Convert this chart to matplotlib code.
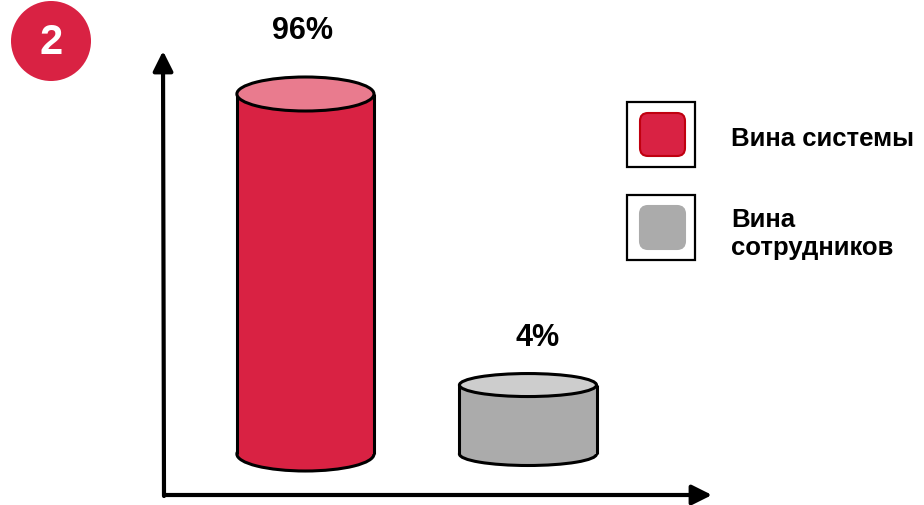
import numpy as np
import matplotlib.pyplot as plt
from matplotlib.patches import Ellipse, Circle, Rectangle, FancyBboxPatch
from matplotlib.transforms import ScaledTranslation

plt.rcParams['font.family'] = ['Liberation Sans', 'DejaVu Sans']

# --- дані ---
categories = ['Вина системы', 'Вина\nсотрудников']
values = [96, 4]
labels = ['96%', '4%']

body_colors = ['#D92243', '#ABABAB']
top_colors = ['#E97B8E', '#CDCDCD']
edge_legend = ['#C00010', '#ABABAB']

W, H = 924, 506
fig = plt.figure(figsize=(W / 100, H / 100), dpi=100)

# шар для оформлення у пікселях (0,0 - лівий верхній кут)
deco = fig.add_axes([0, 0, 1, 1])
deco.set_xlim(0, W)
deco.set_ylim(H, 0)
deco.axis('off')

# номер слайда
deco.add_patch(Circle((51, 42), 40, color='#D92243', lw=0))
deco.text(51, 43, '2', color='white', fontsize=30, fontweight='bold',
          ha='center', va='center')

# осі зі стрілками
arrow = dict(arrowstyle='-|>', lw=3, color='black', mutation_scale=30,
             shrinkA=0, shrinkB=0)
deco.annotate('', xy=(163, 52), xytext=(164, 497), arrowprops=arrow)
deco.annotate('', xy=(712, 496), xytext=(164, 496), arrowprops=arrow)

# легенда
legend_y = [135, 228]
for i, name in enumerate(categories):
    cy = legend_y[i]
    deco.add_patch(Rectangle((627, cy - 32), 68, 65, fc='white', ec='black', lw=1.6))
    deco.add_patch(FancyBboxPatch((640, cy - 21), 45, 43,
                                  boxstyle='round,pad=0,rounding_size=8',
                                  fc=body_colors[i], ec=edge_legend[i], lw=1.5))
    deco.text(731, cy + 4 if i == 0 else cy - 20, name, fontsize=18.5,
              fontweight='bold', ha='left', va='center' if i == 0 else 'top',
              linespacing=1.2)

# циліндри
ax = fig.add_axes([163 / W, (H - 455) / H, (712 - 163) / W, 360 / H])
ax.set_facecolor('none')
p = 0.52
ax.set_yscale('function', functions=(lambda v: np.power(v, p),
                                     lambda v: np.power(v, 1 / p)))
ax.set_ylim(0, max(values))
ax.set_xlim(-0.640, 1.827)
ax.axis('off')

x = np.arange(len(values))
bw = 0.616
ry = [17, 11.5]          # піввисота еліпса, px
label_off = [64, 48]     # відступ підпису над верхом, px

ax.bar(x, values, width=bw, color=body_colors, lw=0, zorder=2, clip_on=False)
for i, v in enumerate(values):
    w_in = bw * (ax.transData.transform((1, 0))[0] - ax.transData.transform((0, 0))[0]) / 100
    for yv, fc, z in [(0, body_colors[i], 1), (v, top_colors[i], 4)]:
        tr = fig.dpi_scale_trans + ScaledTranslation(x[i], yv, ax.transData)
        ax.add_patch(Ellipse((0, 0), w_in, 2 * ry[i] / 100, fc=fc, ec='black',
                             lw=2.2, transform=tr, zorder=z, clip_on=False))
    ax.vlines([x[i] - bw / 2, x[i] + bw / 2], 0, v, colors='black', lw=2.2,
              zorder=3, clip_on=False)
    ax.annotate(labels[i], (x[i], v), xytext=(-3 * 0.72 if i == 0 else 10 * 0.72,
                                              label_off[i] * 0.72),
                textcoords='offset points', ha='center', va='center',
                fontsize=22, fontweight='bold', annotation_clip=False)

fig.savefig('out.png', dpi=100)
